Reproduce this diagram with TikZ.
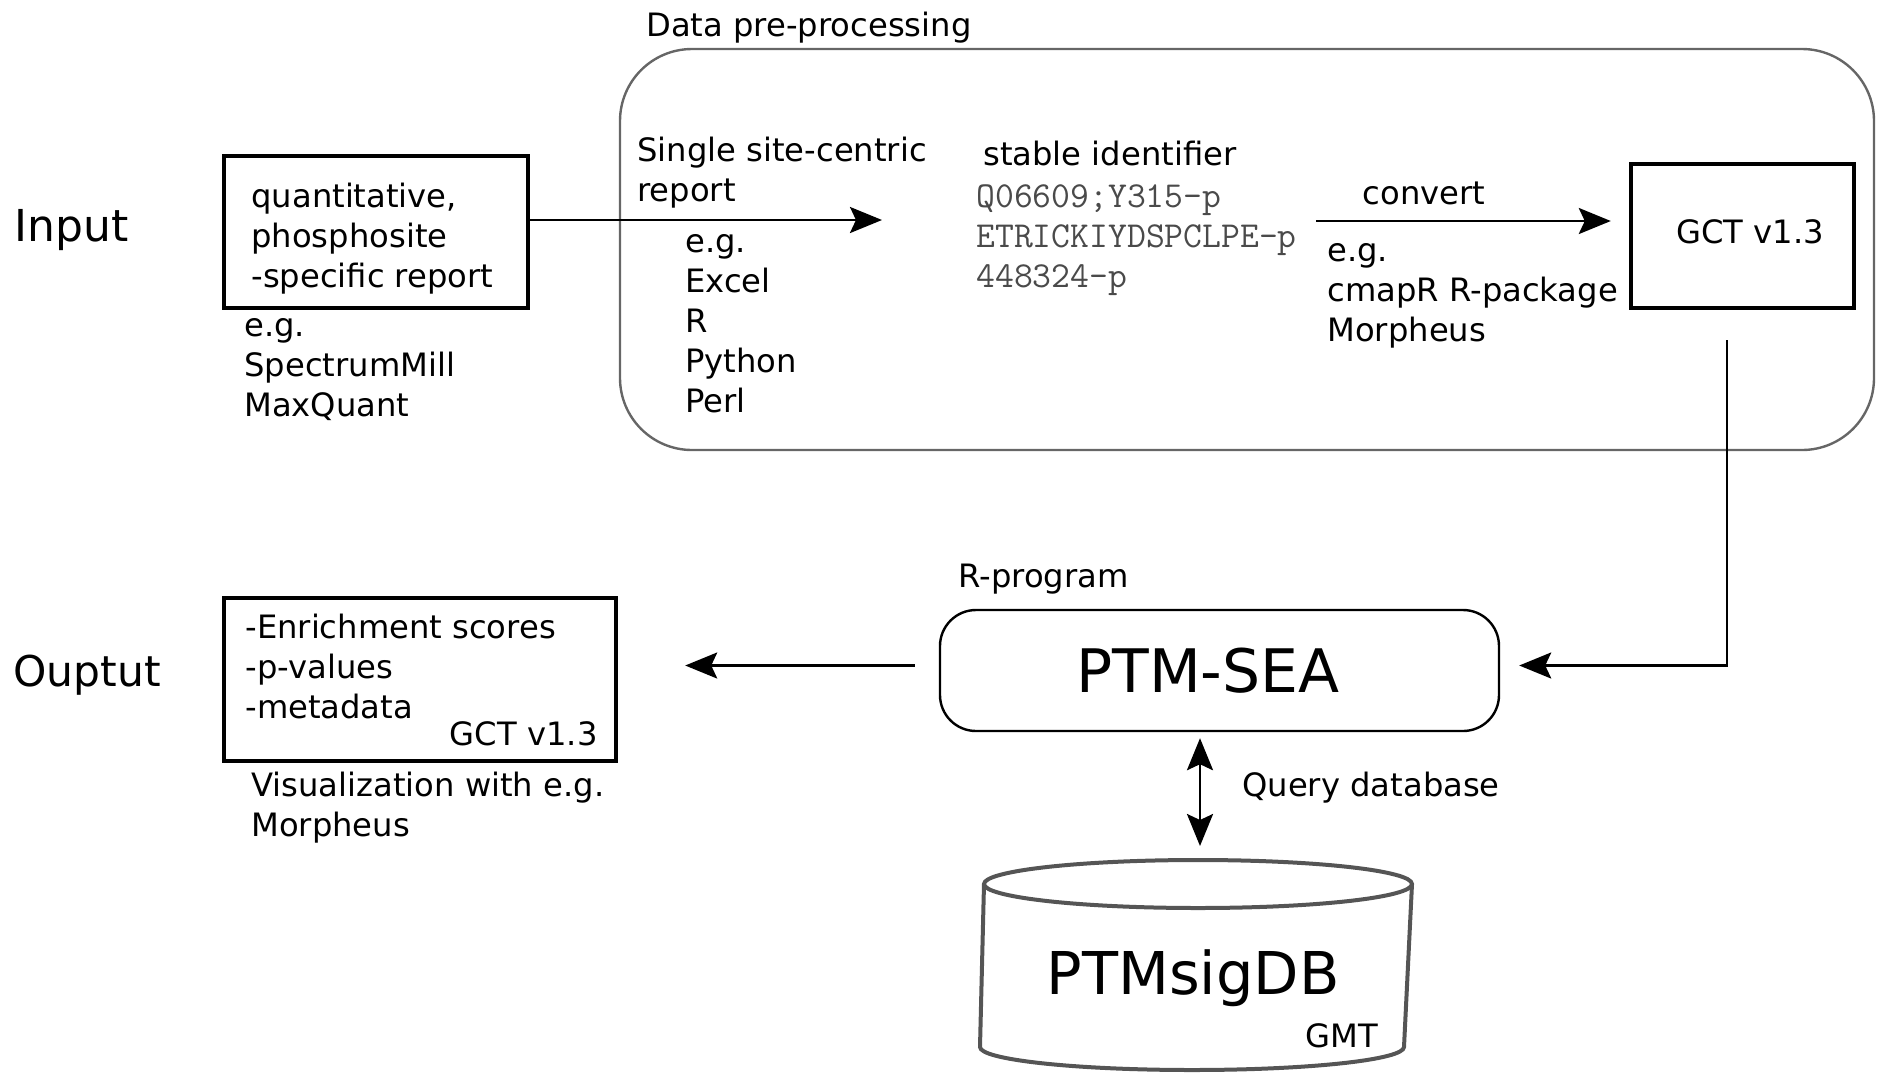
\documentclass[tikz,border=0pt]{standalone}
\usepackage{fontspec}
\setmainfont{DejaVu Sans}
\usepackage{tikz}
\usetikzlibrary{arrows.meta,positioning,calc}
\definecolor{framegray}{HTML}{666666}
\definecolor{dbgray}{HTML}{555555}
\definecolor{idgray}{HTML}{4A4A4A}
\newcommand{\bodyfont}{\fontsize{16.1}{20}\selectfont}
\newcommand{\sidefont}{\fontsize{22}{24}\selectfont}
\newcommand{\bigfont}{\fontsize{29.5}{32}\selectfont}
\tikzset{
  txt/.style={inner sep=0pt, align=left, font=\bodyfont},
  idtxt/.style={txt, font=\ttfamily\fontsize{18.3}{20}\selectfont, text=idgray},
  box/.style={draw, line width=2.2pt, inner sep=0pt},
  roundbox/.style={draw, line width=1.2pt, inner sep=0pt},
  flow/.style={-{Stealth[length=16pt,width=13pt,inset=3pt]}, line width=1.4pt},
  biflow/.style={{Stealth[length=16pt,width=13pt,inset=3pt]}-{Stealth[length=16pt,width=13pt,inset=3pt]}, line width=1.4pt},
  dbline/.style={draw=dbgray, line width=2pt},
}
\begin{document}
\begin{tikzpicture}[x=0.5pt,y=0.5pt]
  \useasboundingbox (0,0) rectangle (1881,-1073);
  % pre-processing frame
  \node[roundbox, draw=framegray, rounded corners=36pt, minimum width=627pt, minimum height=200.5pt] (prep) at (1247,-249.5) {};
  \node[txt, anchor=west] (preptitle) at (646,-28) {Data pre-processing};
  % input side
  \node[txt, anchor=west, font=\sidefont] (input) at (14,-230) {Input};
  \node[box, minimum width=152pt, minimum height=76pt] (inbox) at (376,-232) {};
  \node[txt, anchor=west] (intext) at (251,-239) {quantitative,\\phosphosite\\-specific report};
  \node[txt, anchor=west] (intools) at (244,-370) {e.g.\\SpectrumMill\\MaxQuant};
  \node[txt, anchor=west] (single) at (637,-173) {Single site-centric\\report};
  \node[txt, anchor=west] (reptools) at (685,-323.5) {e.g.\\Excel\\R\\Python\\Perl};
  \node[txt, anchor=west] (stable) at (983,-153) {stable identifier};
  \node[idtxt, anchor=west] (ids) at (976,-240) {Q06609;Y315-p\\ETRICKIYDSPCLPE-p\\448324-p};
  \node[txt] (convert) at (1424,-193) {convert};
  \node[txt, anchor=west] (convtools) at (1327,-296) {e.g.\\cmapR R-package\\Morpheus};
  \node[box, minimum width=111.5pt, minimum height=72pt] (gct) at (1742.5,-236) {};
  \node[txt] (gcttext) at (1750,-232) {GCT v1.3};
  % analysis
  \node[txt, anchor=west] (rprog) at (958,-579) {R-program};
  \node[roundbox, rounded corners=18pt, minimum width=279.5pt, minimum height=60.5pt] (ptmsea) at (1219.5,-670.5) {};
  \node[txt, font=\fontsize{30}{32}\selectfont] (ptmseatext) at (1208,-671) {PTM-SEA};
  \node[txt, anchor=west] (query) at (1242,-788) {Query database};
  % database
  \coordinate (dbtop) at (1200,-860);
  \draw[dbline] (984,-884) -- (980,-1047) arc[start angle=180, end angle=360, x radius=212, y radius=23] -- (1412,-884);
  \draw[dbline, fill=white] (1198,-884) ellipse[x radius=214, y radius=24];
  \node[txt, font=\bigfont] (db) at (1193,-978) {PTMsigDB};
  \node[txt] (gmt) at (1342,-1036) {GMT};
  % output side
  \node[txt, anchor=west, font=\fontsize{21.2}{24}\selectfont] (output) at (13,-675) {Ouptut};
  \node[box, minimum width=196pt, minimum height=81.5pt] (outbox) at (420,-679.5) {};
  \node[txt, anchor=west] (results) at (245,-666) {-Enrichment scores\\-p-values\\-metadata};
  \node[txt, anchor=east] (outgct) at (598,-734) {GCT v1.3};
  \node[txt, anchor=west] (vis) at (251,-808) {Visualization with e.g.\\Morpheus};
  % connectors
  \coordinate (rep) at (882,-220);
  \coordinate (cv) at (1316,-221);
  \coordinate (gctdrop) at (1727,-340);
  \draw[flow] (inbox.east |- rep) -- (rep);
  \draw[flow] (cv) -- ($(gct.west |- cv)+(-18,0)$);
  \draw[flow] (gctdrop) |- ($(ptmsea.east)+(19,5)$);
  \draw[flow] ($(ptmsea.west)+(-24,5)$) -- ($(outbox.east |- ptmsea.west)+(67,5)$);
  \draw[biflow] ($(ptmsea.south -| dbtop)+(0,-6)$) -- ($(dbtop)+(0,14)$);
\end{tikzpicture}
\end{document}
